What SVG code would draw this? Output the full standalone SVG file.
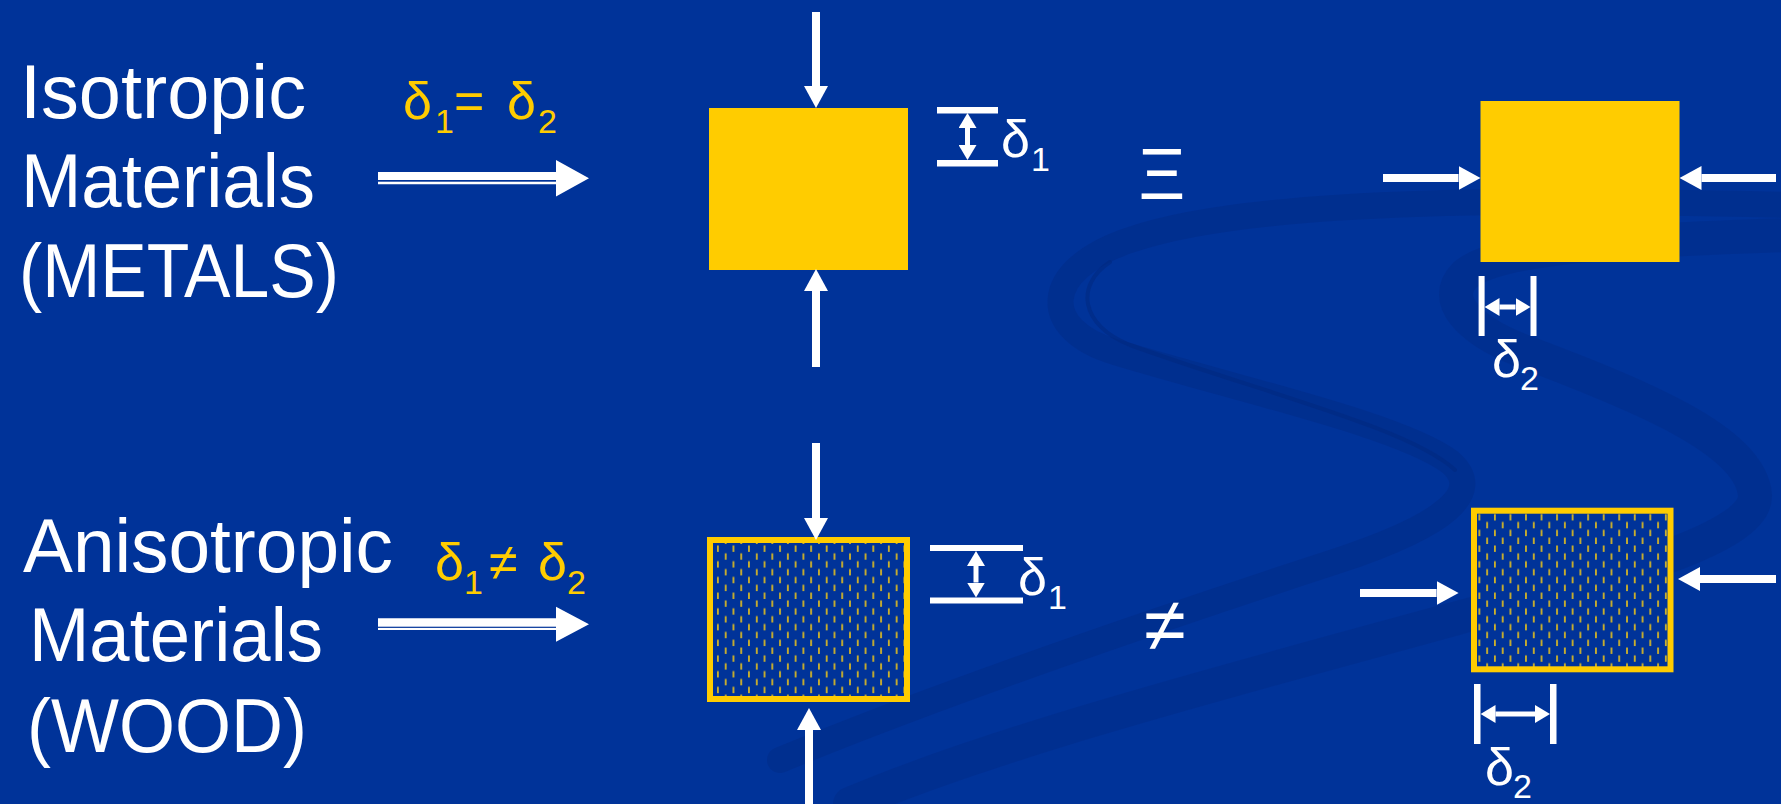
<svg xmlns="http://www.w3.org/2000/svg" width="1781" height="804" viewBox="0 0 1781 804">
<defs>
<style>
.lbl{font-family:"Liberation Sans",Arial,sans-serif;font-size:76px;fill:#ffffff}
.sym{font-family:"Liberation Sans",Arial,sans-serif;fill:#ffffff}
.yel{fill:#FFCC00}
.big{font-size:52px}
.sub{font-size:34px}
.force{stroke:#ffffff;stroke-width:8;fill:none}
.dim{stroke:#ffffff;stroke-width:5;fill:none}
.bar{fill:#ffffff}
.solid{fill:#FFCC00}
.grain{fill:url(#grain);stroke:#FFCC00;stroke-width:6}
.ribbon{fill:none;stroke:#00287E;stroke-linecap:round}
</style>
<marker id="head" markerUnits="userSpaceOnUse" markerWidth="22" markerHeight="24" refX="0" refY="12" orient="auto">
<path d="M0 0L22 12L0 24z" fill="#ffffff"/>
</marker>
<marker id="tip" markerUnits="userSpaceOnUse" markerWidth="15" markerHeight="18" refX="0" refY="9" orient="auto-start-reverse">
<path d="M0 0L15 9L0 18z" fill="#ffffff"/>
</marker>
<pattern id="grain" patternUnits="userSpaceOnUse" x="716" y="545" width="15.54" height="15.7">
<rect width="15.54" height="15.7" fill="#003399"/>
<path d="M1.9 0.5v6.4M9.7 8.3v6.4" stroke="#EBC31A" stroke-width="1.6"/>
</pattern>
</defs>

<!-- slide backdrop with faint ribbons -->
<g id="backdrop">
<rect width="1781" height="804" fill="#003399"/>
<path class="ribbon" stroke-width="26" opacity="0.35" d="M1790 205C1560 200 1260 195 1130 240C1040 270 1040 330 1115 352C1240 390 1400 425 1450 462C1485 492 1445 525 1340 560C1150 622 950 690 780 760"/>
<path class="ribbon" stroke-width="4" opacity="0.5" d="M1110 262C1075 285 1080 325 1130 345C1260 392 1410 428 1455 470"/>
<path class="ribbon" stroke-width="34" opacity="0.3" d="M1790 235C1640 240 1500 245 1465 275C1440 300 1470 330 1520 350C1640 395 1750 440 1755 495C1758 540 1600 580 1450 620C1250 675 1000 740 850 804"/>
</g>

<!-- row labels -->
<g id="label-isotropic">
<text class="lbl" x="20" y="118" textLength="286" lengthAdjust="spacingAndGlyphs">Isotropic</text>
<text class="lbl" x="21" y="207" textLength="294" lengthAdjust="spacingAndGlyphs">Materials</text>
<text class="lbl" x="19" y="297" textLength="320" lengthAdjust="spacingAndGlyphs">(METALS)</text>
</g>
<g id="label-anisotropic">
<text class="lbl" x="23" y="572" textLength="370" lengthAdjust="spacingAndGlyphs">Anisotropic</text>
<text class="lbl" x="29" y="661" textLength="294" lengthAdjust="spacingAndGlyphs">Materials</text>
<text class="lbl" x="27" y="752" textLength="280" lengthAdjust="spacingAndGlyphs">(WOOD)</text>
</g>

<!-- relations -->
<g id="relation-equal" class="sym yel">
<text class="big" x="403" y="119">δ</text>
<text class="sub" x="435" y="133">1</text>
<text class="big" x="454" y="119">=</text>
<text class="big" x="507" y="119">δ</text>
<text class="sub" x="538" y="133">2</text>
</g>
<g id="relation-unequal" class="sym yel">
<text class="big" x="435" y="580">δ</text>
<text class="sub" x="464" y="594">1</text>
<text class="big" x="489" y="580">≠</text>
<text class="big" x="538" y="580">δ</text>
<text class="sub" x="567" y="594">2</text>
</g>

<!-- specimens -->
<g id="metal-vertical">
<rect class="solid" x="709" y="108" width="199" height="162"/>
<rect class="bar" x="937" y="107" width="61" height="6.5"/>
<rect class="bar" x="937" y="160" width="61" height="6.5"/>
<text class="sym big" x="1001" y="157">δ</text>
<text class="sym sub" x="1031" y="171">1</text>
</g>
<g id="metal-lateral">
<rect class="solid" x="1480.5" y="101" width="199" height="161"/>
<rect class="bar" x="1478.6" y="276" width="6" height="60"/>
<rect class="bar" x="1530.5" y="276" width="6" height="60"/>
<text class="sym big" x="1492" y="377">δ</text>
<text class="sym sub" x="1520" y="390">2</text>
</g>
<g id="wood-vertical">
<rect class="grain" x="710" y="540" width="197" height="159"/>
<rect class="bar" x="930" y="545" width="93" height="6"/>
<rect class="bar" x="930" y="597.5" width="93" height="6"/>
<text class="sym big" x="1018" y="595">δ</text>
<text class="sym sub" x="1048" y="609">1</text>
</g>
<g id="wood-lateral">
<rect class="grain" x="1474" y="510.7" width="196.5" height="158.6"/>
<rect class="bar" x="1474" y="684" width="6.5" height="60"/>
<rect class="bar" x="1550" y="684" width="6.5" height="60"/>
<text class="sym big" x="1485" y="785">δ</text>
<text class="sym sub" x="1513" y="798">2</text>
</g>

<!-- comparison signs -->
<g id="sign-equiv">
<text class="sym" x="1162" y="199" font-size="72" text-anchor="middle">Ξ</text>
</g>
<g id="sign-notequiv">
<text class="sym" x="1165" y="651" font-size="76" text-anchor="middle">≠</text>
</g>

<!-- arrows -->
<g id="connectors">
<path d="M378 172H556V160L589 178.3L556 196.5V184.3H378Z" fill="#ffffff"/>
<rect x="378" y="180" width="178" height="1.7" fill="#003399"/>
<path d="M378 618.3H556V606.7L589 624.2L556 641.7V630H378Z" fill="#ffffff"/>
<rect x="378" y="626.7" width="178" height="1.2" fill="#003399"/>

<line class="force" x1="816" y1="12" x2="816" y2="86" marker-end="url(#head)"/>
<line class="force" x1="816" y1="367" x2="816" y2="291" marker-end="url(#head)"/>
<line class="force" x1="1383" y1="178" x2="1458.5" y2="178" marker-end="url(#head)"/>
<line class="force" x1="1776" y1="178" x2="1701.5" y2="178" marker-end="url(#head)"/>

<line class="force" x1="816" y1="443" x2="816" y2="518" marker-end="url(#head)"/>
<line class="force" x1="809" y1="804" x2="809" y2="730" marker-end="url(#head)"/>
<line class="force" x1="1360" y1="593" x2="1436.6" y2="593" marker-end="url(#head)"/>
<line class="force" x1="1776" y1="579" x2="1700" y2="579" marker-end="url(#head)"/>

<line class="dim" x1="967.5" y1="128" x2="967.5" y2="145" marker-start="url(#tip)" marker-end="url(#tip)"/>
<line class="dim" x1="1499.5" y1="307" x2="1515.5" y2="307" marker-start="url(#tip)" marker-end="url(#tip)"/>
<line class="dim" x1="976" y1="566" x2="976" y2="582.5" marker-start="url(#tip)" marker-end="url(#tip)"/>
<line class="dim" x1="1495.5" y1="714" x2="1535" y2="714" marker-start="url(#tip)" marker-end="url(#tip)"/>
</g>
</svg>
